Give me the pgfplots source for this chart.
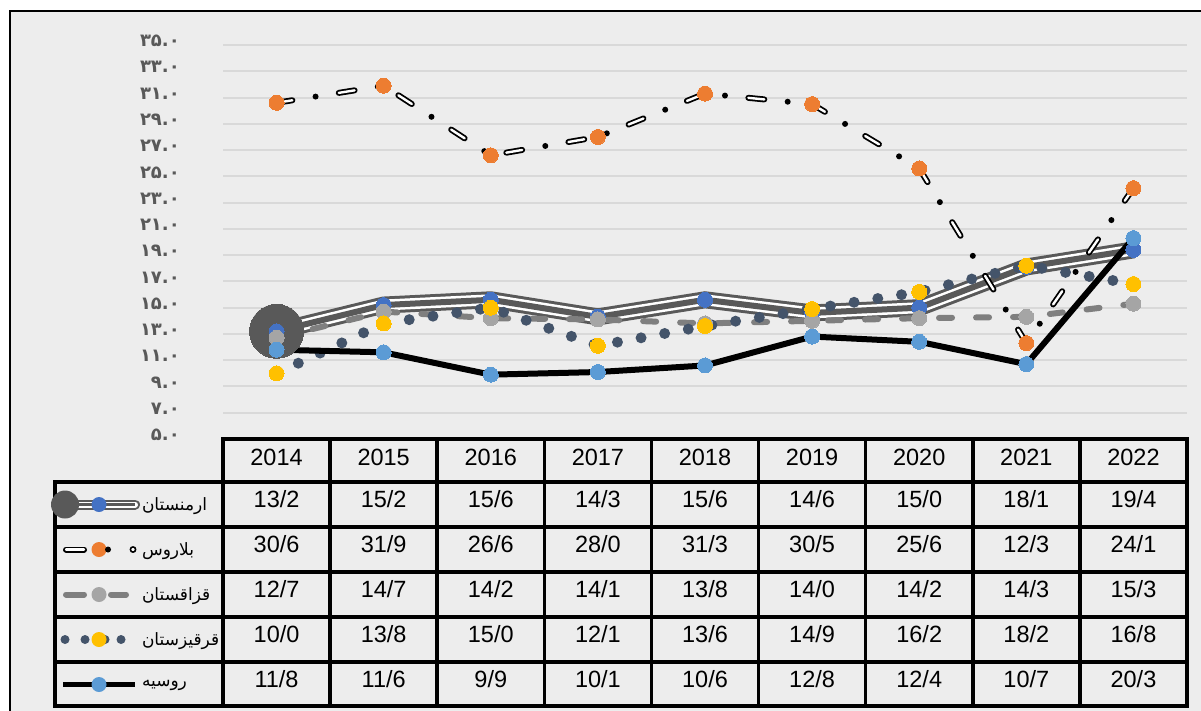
\documentclass[border=0pt]{standalone}
\usepackage{pgfplots}
\pgfplotsset{compat=1.18}
\usepackage{fontspec}
\setmainfont{Liberation Sans}
\newfontfamily\arabicfont[Script=Arabic]{DejaVu Sans}
\TeXXeTstate=1
\definecolor{bgc}{RGB}{237,237,237}
\definecolor{gridc}{RGB}{217,217,217}
\definecolor{armg}{RGB}{89,89,89}
\definecolor{armb}{RGB}{68,114,196}
\definecolor{belo}{RGB}{237,125,49}
\definecolor{kazl}{RGB}{127,127,127}
\definecolor{kazm}{RGB}{165,165,165}
\definecolor{kyrd}{RGB}{68,84,106}
\definecolor{kyry}{RGB}{255,192,0}
\definecolor{rusb}{RGB}{91,155,213}
\definecolor{tickc}{RGB}{89,89,89}

\def\ry{465}
\newcommand\trow[9]{%
  \node[anchor=base] at ({223+107.111*0.5},-\ry) {#1};
  \node[anchor=base] at ({223+107.111*1.5},-\ry) {#2};
  \node[anchor=base] at ({223+107.111*2.5},-\ry) {#3};
  \node[anchor=base] at ({223+107.111*3.5},-\ry) {#4};
  \node[anchor=base] at ({223+107.111*4.5},-\ry) {#5};
  \node[anchor=base] at ({223+107.111*5.5},-\ry) {#6};
  \node[anchor=base] at ({223+107.111*6.5},-\ry) {#7};
  \node[anchor=base] at ({223+107.111*7.5},-\ry) {#8};
  \node[anchor=base] at ({223+107.111*8.5},-\ry) {#9};
}

\begin{document}
\begin{tikzpicture}[x=1bp,y=1bp]
\path[use as bounding box, fill=white] (0,0) rectangle (1201,-711);
\fill[bgc] (10,-11) rectangle (1201,-711);
\draw[line width=2bp] (10,-711) -- (10,-11) -- (1201,-11);

% table grid
\begin{scope}[line width=3.5bp, line cap=rect]
\draw (223,-439) -- (1187,-439);
\foreach \y in {482,527,572,617,662,706} \draw (55,-\y) -- (1187,-\y);
\foreach \k in {0,...,9} \draw ({223+107.111*\k},-439) -- ({223+107.111*\k},-706);
\draw (55,-482) -- (55,-706);
\end{scope}

\begin{axis}[
  at={(223bp,-439bp)}, anchor=south west,
  scale only axis, width=964bp, height=394bp,
  xmin=-0.5, xmax=8.5, ymin=5, ymax=35,
  xtick=\empty, ytick={5,7,...,35},
  yticklabels={۵.۰,۷.۰,۹.۰,۱۱.۰,۱۳.۰,۱۵.۰,۱۷.۰,۱۹.۰,۲۱.۰,۲۳.۰,۲۵.۰,۲۷.۰,۲۹.۰,۳۱.۰,۳۳.۰,۳۵.۰},
  yticklabel style={font=\arabicfont\bfseries\fontsize{18bp}{21bp}\selectfont, text=tickc, anchor=east, inner sep=0pt, xshift=-43bp, yshift=4bp},
  major tick length=0pt,
  axis line style={draw=none},
  ymajorgrids, major grid style={draw=gridc, line width=2bp},
  clip=false,
  legend cell align=left,
  legend style={at={(-0.1784,-0.10914)}, anchor=north west, draw=none, fill=none,
    inner sep=0pt, outer sep=0pt, row sep=0pt, column sep=0pt,
    nodes={inner sep=0pt, anchor=west, font=\arabicfont\fontsize{17bp}{20bp}\selectfont}},
]
% Armenia
\addplot[armg, line width=17bp, forget plot] coordinates {(0,13.2)(1,15.2)(2,15.6)(3,14.3)(4,15.6)(5,14.6)(6,15.0)(7,18.1)(8,19.4)};
\addplot[white, line width=11bp, forget plot] coordinates {(0,13.2)(1,15.2)(2,15.6)(3,14.3)(4,15.6)(5,14.6)(6,15.0)(7,18.1)(8,19.4)};
\addplot[armg, line width=6bp, forget plot] coordinates {(0,13.2)(1,15.2)(2,15.6)(3,14.3)(4,15.6)(5,14.6)(6,15.0)(7,18.1)(8,19.4)};
\addplot[armg, only marks, mark=*, mark size=27bp, mark options={draw=armg, fill=armg, line width=0pt}, forget plot] coordinates {(0,13.2)};
\addplot[armb, only marks, mark=*, mark size=7.5bp, mark options={draw=armb, fill=armb, line width=0pt},
  legend image code/.code={
    \path[draw=none, fill=none] (-8bp,-22.5bp) rectangle (79bp,22.5bp);
    \draw[armg, line width=10bp, line cap=round] (2bp,0) -- (72bp,0);
    \draw[white, line width=6bp, line cap=round] (2bp,0) -- (72bp,0);
    \draw[armg, line width=2.5bp] (2bp,0) -- (72bp,0);
    \path[draw=none, fill=armg] (2bp,0) circle (14bp);
    \path[draw=none, fill=armb] (36bp,0) circle (7.5bp);
  }] coordinates {(0,13.2)(1,15.2)(2,15.6)(3,14.3)(4,15.6)(5,14.6)(6,15.0)(7,18.1)(8,19.4)};
\addlegendentry{\beginR ارمنستان\endR}
% Belarus
\addplot[black, line width=6bp, line cap=round, line join=round, dash pattern=on 16bp off 23.5bp on 0bp off 23.5bp, forget plot] coordinates {(0,30.6)(1,31.9)(2,26.6)(3,28.0)(4,31.3)(5,30.5)(6,25.6)(7,12.3)(8,24.1)};
\addplot[white, line width=2.4bp, line cap=round, line join=round, dash pattern=on 16bp off 47bp, forget plot] coordinates {(0,30.6)(1,31.9)(2,26.6)(3,28.0)(4,31.3)(5,30.5)(6,25.6)(7,12.3)(8,24.1)};
\addplot[belo, only marks, mark=*, mark size=7.5bp, mark options={draw=belo, fill=belo, line width=0pt},
  legend image code/.code={
    \path[draw=none, fill=none] (-8bp,-22.5bp) rectangle (79bp,22.5bp);
    \draw[black, line width=6bp, line cap=round] (3bp,0) -- (21bp,0);
    \draw[white, line width=2.4bp, line cap=round] (3bp,0) -- (21bp,0);
    \path[draw=none, fill=belo] (36bp,0) circle (7.5bp);
    \path[draw=none, fill=black] (45bp,0) circle (3bp);
    \path[draw=black, line width=1.6bp, fill=white] (70bp,0) circle (2.6bp);
  }] coordinates {(0,30.6)(1,31.9)(2,26.6)(3,28.0)(4,31.3)(5,30.5)(6,25.6)(7,12.3)(8,24.1)};
\addlegendentry{\beginR بلاروس\endR}
% Kazakhstan
\addplot[kazl, line width=6bp, line cap=round, dash pattern=on 13bp off 24bp, forget plot] coordinates {(0,12.7)(1,14.7)(2,14.2)(3,14.1)(4,13.8)(5,14.0)(6,14.2)(7,14.3)(8,15.3)};
\addplot[kazm, only marks, mark=*, mark size=7.5bp, mark options={draw=kazm, fill=kazm, line width=0pt},
  legend image code/.code={
    \path[draw=none, fill=none] (-8bp,-22.5bp) rectangle (79bp,22.5bp);
    \draw[kazl, line width=6bp, line cap=round] (3bp,0) -- (21bp,0);
    \draw[kazl, line width=6bp, line cap=round] (48bp,0) -- (63bp,0);
    \path[draw=none, fill=kazm] (36bp,0) circle (7.5bp);
  }] coordinates {(0,12.7)(1,14.7)(2,14.2)(3,14.1)(4,13.8)(5,14.0)(6,14.2)(7,14.3)(8,15.3)};
\addlegendentry{\beginR قزاقستان\endR}
% Kyrgyzstan
\addplot[kyrd, line width=11bp, line cap=round, dash pattern=on 0bp off 24bp, forget plot] coordinates {(0,10.0)(1,13.8)(2,15.0)(3,12.1)(4,13.6)(5,14.9)(6,16.2)(7,18.2)(8,16.8)};
\addplot[kyry, only marks, mark=*, mark size=7.5bp, mark options={draw=kyry, fill=kyry, line width=0pt},
  legend image code/.code={
    \path[draw=none, fill=none] (-8bp,-22.5bp) rectangle (79bp,22.5bp);
    \path[draw=none, fill=kyrd] (2bp,0) circle (4.5bp);
    \path[draw=none, fill=kyrd] (22bp,0) circle (4.5bp);
    \path[draw=none, fill=kyrd] (42bp,0) circle (4.5bp);
    \path[draw=none, fill=kyrd] (58bp,0) circle (4.5bp);
    \path[draw=none, fill=kyry] (36bp,0) circle (7.5bp);
  }] coordinates {(0,10.0)(1,13.8)(2,15.0)(3,12.1)(4,13.6)(5,14.9)(6,16.2)(7,18.2)(8,16.8)};
\addlegendentry{\beginR قرقیزستان\endR}
% Russia
\addplot[black, line width=6bp, forget plot] coordinates {(0,11.8)(1,11.6)(2,9.9)(3,10.1)(4,10.6)(5,12.8)(6,12.4)(7,10.7)(8,20.3)};
\addplot[rusb, only marks, mark=*, mark size=7.5bp, mark options={draw=rusb, fill=rusb, line width=0pt},
  legend image code/.code={
    \path[draw=none, fill=none] (-8bp,-22.5bp) rectangle (79bp,22.5bp);
    \draw[black, line width=5bp] (0,0) -- (72bp,0);
    \path[draw=none, fill=rusb] (36bp,0) circle (7.5bp);
  }] coordinates {(0,11.8)(1,11.6)(2,9.9)(3,10.1)(4,10.6)(5,12.8)(6,12.4)(7,10.7)(8,20.3)};
\addlegendentry{\beginR روسیه\endR}
\end{axis}

\draw[line width=3.5bp, line cap=rect] (223,-439) -- (1187,-439);

\begin{scope}[font=\fontsize{23.5bp}{27bp}\selectfont]
\def\ry{465}
\trow{2014}{2015}{2016}{2017}{2018}{2019}{2020}{2021}{2022}
\def\ry{507.5}
\trow{13/2}{15/2}{15/6}{14/3}{15/6}{14/6}{15/0}{18/1}{19/4}
\def\ry{552.5}
\trow{30/6}{31/9}{26/6}{28/0}{31/3}{30/5}{25/6}{12/3}{24/1}
\def\ry{597.5}
\trow{12/7}{14/7}{14/2}{14/1}{13/8}{14/0}{14/2}{14/3}{15/3}
\def\ry{642.5}
\trow{10/0}{13/8}{15/0}{12/1}{13/6}{14/9}{16/2}{18/2}{16/8}
\def\ry{687.5}
\trow{11/8}{11/6}{9/9}{10/1}{10/6}{12/8}{12/4}{10/7}{20/3}
\end{scope}
\end{tikzpicture}
\end{document}
